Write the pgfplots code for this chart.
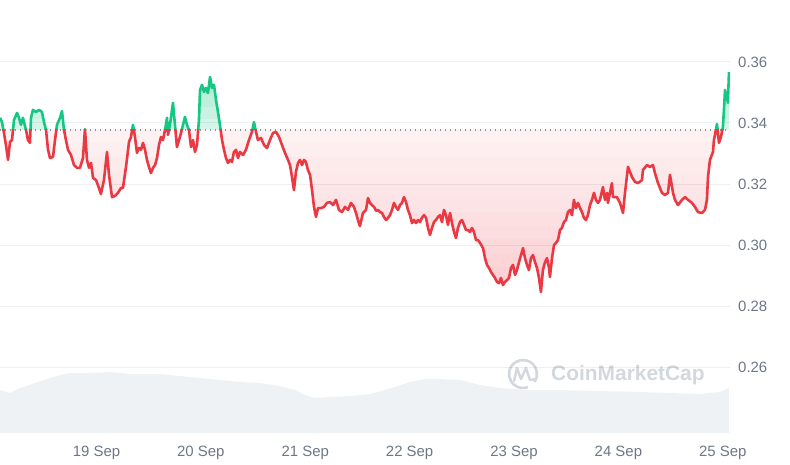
\documentclass[border=0pt]{standalone}
\usepackage{pgfplots}
\pgfplotsset{compat=1.18}
\usepackage{pgfplotstable}
\usepackage{fontspec}
\setmainfont{Liberation Sans}

\definecolor{cmcred}{RGB}{234,57,67}
\definecolor{cmcgreen}{RGB}{22,199,132}
\definecolor{gridgray}{RGB}{238,240,243}
\definecolor{gridtint}{RGB}{30,50,80}
\definecolor{volgray}{RGB}{239,242,245}
\definecolor{labelgray}{RGB}{110,118,135}
\definecolor{markgray}{RGB}{211,215,222}

% price, day of September
\pgfplotstableread{
day price
18.076 0.3417
18.095 0.3403
18.114 0.3367
18.133 0.3328
18.153 0.3279
18.172 0.3338
18.191 0.3344
18.210 0.3410
18.239 0.3433
18.258 0.3417
18.277 0.3394
18.296 0.3417
18.325 0.3377
18.344 0.3344
18.363 0.3335
18.373 0.3417
18.392 0.3443
18.421 0.3436
18.450 0.3443
18.478 0.3436
18.497 0.3403
18.517 0.3377
18.536 0.3312
18.555 0.3285
18.584 0.3289
18.603 0.3344
18.622 0.3394
18.651 0.3417
18.670 0.3439
18.689 0.3377
18.708 0.3344
18.727 0.3312
18.756 0.3295
18.785 0.3262
18.814 0.3253
18.842 0.3253
18.871 0.3285
18.890 0.3380
18.909 0.3279
18.929 0.3253
18.948 0.3269
18.967 0.3220
18.996 0.3213
19.024 0.3187
19.043 0.3167
19.072 0.3213
19.101 0.3305
19.120 0.3230
19.149 0.3157
19.178 0.3161
19.206 0.3171
19.235 0.3187
19.254 0.3187
19.283 0.3256
19.312 0.3338
19.331 0.3354
19.350 0.3394
19.369 0.3354
19.388 0.3302
19.407 0.3318
19.427 0.3312
19.446 0.3335
19.465 0.3312
19.484 0.3279
19.503 0.3256
19.522 0.3236
19.542 0.3253
19.561 0.3262
19.580 0.3285
19.599 0.3328
19.618 0.3354
19.637 0.3344
19.657 0.3377
19.676 0.3417
19.685 0.3361
19.704 0.3394
19.733 0.3466
19.752 0.3394
19.771 0.3321
19.791 0.3344
19.810 0.3367
19.829 0.3394
19.848 0.3420
19.867 0.3394
19.886 0.3377
19.906 0.3321
19.925 0.3344
19.944 0.3305
19.963 0.3328
19.982 0.3410
19.992 0.3508
20.011 0.3525
20.030 0.3502
20.049 0.3515
20.068 0.3498
20.088 0.3551
20.107 0.3515
20.126 0.3525
20.145 0.3476
20.164 0.3436
20.183 0.3394
20.203 0.3344
20.222 0.3312
20.241 0.3285
20.260 0.3269
20.279 0.3279
20.298 0.3272
20.317 0.3305
20.337 0.3312
20.356 0.3285
20.375 0.3305
20.404 0.3295
20.432 0.3312
20.461 0.3344
20.490 0.3371
20.509 0.3403
20.528 0.3371
20.547 0.3344
20.576 0.3351
20.605 0.3328
20.634 0.3318
20.662 0.3344
20.691 0.3367
20.720 0.3371
20.749 0.3354
20.777 0.3328
20.806 0.3302
20.835 0.3279
20.854 0.3262
20.873 0.3223
20.892 0.3180
20.911 0.3240
20.931 0.3269
20.950 0.3279
20.969 0.3262
20.988 0.3279
21.007 0.3272
21.026 0.3246
21.046 0.3230
21.065 0.3180
21.084 0.3125
21.103 0.3092
21.122 0.3121
21.151 0.3121
21.180 0.3125
21.208 0.3138
21.237 0.3141
21.266 0.3131
21.295 0.3148
21.323 0.3115
21.352 0.3108
21.381 0.3125
21.410 0.3115
21.438 0.3138
21.467 0.3125
21.486 0.3105
21.505 0.3082
21.524 0.3062
21.553 0.3105
21.582 0.3115
21.601 0.3154
21.620 0.3138
21.639 0.3131
21.659 0.3125
21.678 0.3112
21.697 0.3115
21.716 0.3108
21.735 0.3105
21.754 0.3092
21.774 0.3082
21.793 0.3089
21.812 0.3098
21.831 0.3115
21.850 0.3138
21.869 0.3125
21.888 0.3115
21.908 0.3131
21.927 0.3138
21.946 0.3157
21.965 0.3141
21.984 0.3115
22.003 0.3098
22.023 0.3072
22.042 0.3082
22.061 0.3072
22.080 0.3082
22.099 0.3075
22.118 0.3089
22.138 0.3098
22.157 0.3089
22.176 0.3056
22.195 0.3033
22.214 0.3056
22.233 0.3075
22.252 0.3082
22.272 0.3092
22.291 0.3098
22.310 0.3075
22.329 0.3115
22.348 0.3098
22.367 0.3066
22.387 0.3105
22.406 0.3072
22.425 0.3043
22.444 0.3023
22.463 0.3056
22.482 0.3075
22.501 0.3082
22.521 0.3066
22.540 0.3049
22.559 0.3049
22.578 0.3043
22.597 0.3056
22.616 0.3043
22.636 0.3016
22.655 0.3016
22.674 0.3007
22.703 0.2990
22.722 0.2957
22.741 0.2935
22.760 0.2925
22.779 0.2912
22.798 0.2902
22.818 0.2892
22.837 0.2879
22.856 0.2875
22.875 0.2892
22.894 0.2869
22.913 0.2879
22.933 0.2885
22.952 0.2892
22.971 0.2925
22.990 0.2935
23.009 0.2902
23.028 0.2918
23.048 0.2944
23.067 0.2967
23.086 0.2990
23.105 0.2957
23.124 0.2935
23.143 0.2918
23.162 0.2957
23.182 0.2967
23.201 0.2944
23.220 0.2925
23.239 0.2892
23.258 0.2846
23.277 0.2918
23.297 0.2944
23.316 0.2957
23.335 0.2925
23.344 0.2895
23.364 0.2957
23.383 0.3000
23.402 0.3007
23.421 0.3016
23.440 0.3049
23.459 0.3056
23.478 0.3075
23.498 0.3082
23.517 0.3108
23.536 0.3115
23.555 0.3098
23.574 0.3148
23.593 0.3121
23.613 0.3138
23.632 0.3121
23.651 0.3108
23.670 0.3089
23.689 0.3082
23.708 0.3098
23.728 0.3131
23.747 0.3148
23.766 0.3171
23.785 0.3148
23.804 0.3138
23.823 0.3148
23.852 0.3190
23.871 0.3148
23.890 0.3171
23.900 0.3138
23.938 0.3203
23.948 0.3157
23.986 0.3157
24.015 0.3138
24.044 0.3105
24.063 0.3171
24.092 0.3256
24.130 0.3223
24.159 0.3207
24.188 0.3203
24.226 0.3213
24.235 0.3246
24.274 0.3262
24.302 0.3256
24.331 0.3262
24.350 0.3236
24.379 0.3203
24.417 0.3171
24.446 0.3164
24.475 0.3171
24.494 0.3230
24.523 0.3171
24.542 0.3148
24.571 0.3131
24.609 0.3148
24.638 0.3157
24.667 0.3148
24.705 0.3138
24.733 0.3125
24.762 0.3108
24.800 0.3105
24.829 0.3115
24.848 0.3148
24.858 0.3223
24.877 0.3279
24.906 0.3305
24.915 0.3344
24.934 0.3377
24.944 0.3397
24.963 0.3335
24.982 0.3354
25.001 0.3387
25.011 0.3443
25.021 0.3508
25.040 0.3485
25.049 0.3466
25.059 0.3567
}\price

% volume, relative units
\pgfplotstableread{
day vol
18.076 43
18.172 40
18.268 45
18.411 50
18.555 55
18.651 58
18.747 60
18.938 60
19.130 61
19.321 59
19.609 59
19.800 57
19.992 55
20.183 53
20.375 51
20.567 50
20.758 47
20.902 43
20.998 38
21.093 35
21.237 36
21.429 37
21.620 39
21.764 43
21.860 46
22.003 51
22.147 54
22.291 54
22.482 53
22.674 48
22.866 45
23.153 43
23.440 43
23.823 42
24.207 41
24.494 40
24.781 39
24.973 41
25.059 45
}\volume

% stepped fills that stand in for the colour gradient:
% red = above the price and below the level #1, green = below the price and above #1
\newcommand{\redband}[2]{%
  \begin{scope}
  \clip (axis cs:18,0.27) rectangle (axis cs:26,#1);
  \addplot[draw=none, fill=cmcred!#2, forget plot] table[x=day, y=price] {\price}
    -- (axis cs:25.059,0.40) -- (axis cs:18.076,0.40) -- cycle;
  \end{scope}}
\newcommand{\greenband}[2]{%
  \begin{scope}
  \clip (axis cs:18,#1) rectangle (axis cs:26,0.40);
  \addplot[draw=none, fill=cmcgreen!#2, forget plot] table[x=day, y=price] {\price} \closedcycle;
  \end{scope}}

\begin{document}
\begin{tikzpicture}

% volume in the background
\begin{axis}[at={(0,0)}, anchor=north west, scale only axis,
  width=730bp, height=433bp, hide axis,
  xmin=18.076, xmax=25.069, ymin=0, ymax=433]
\addplot[draw=none, fill=volgray] table[x=day, y=vol] {\volume} \closedcycle;
\end{axis}

% watermark
\draw[markgray, line width=2.6bp] (523bp,-374bp) ++(-35:14bp) arc[start angle=-35, end angle=290, radius=14bp];
\draw[markgray, line width=2.4bp, line join=round, line cap=round]
  (514bp,-381bp) -- (517bp,-368bp) -- (521bp,-379bp) -- (526bp,-368bp) -- (530bp,-380bp) -- (536bp,-379bp);
\node[anchor=west, inner sep=0pt, text=markgray, font=\bfseries\fontsize{21}{21}\selectfont]
  at (551bp,-375bp) {CoinMarketCap};

\begin{axis}[at={(0,0)}, anchor=north west, scale only axis,
  width=730bp, height=433bp,
  xmin=18.076, xmax=25.069, ymin=0.2384, ymax=0.3803,
  axis line style={draw=none}, tick style={draw=none}, major tick length=0pt,
  xtick={19,20,21,22,23,24,25},
  xticklabels={19 Sep,20 Sep,21 Sep,22 Sep,23 Sep,24 Sep,25 Sep},
  ytick={0.26,0.28,0.30,0.32,0.34,0.36},
  yticklabels={0.26,0.28,0.30,0.32,0.34,0.36},
  yticklabel pos=right,
  ticklabel style={font=\fontsize{15}{18}\selectfont, text=labelgray},
  yticklabel style={anchor=west, inner sep=0pt, xshift=8bp},
  xticklabel style={anchor=base, inner sep=0pt, yshift=-23bp},
]
\redband{0.3377}{7}
\redband{0.3332}{8}
\redband{0.3287}{10}
\redband{0.3242}{11}
\redband{0.3197}{13}
\redband{0.3152}{14}
\redband{0.3107}{16}
\redband{0.3062}{17}
\redband{0.3017}{19}
\redband{0.2972}{21}
\redband{0.2927}{23}
\redband{0.2882}{25}

\greenband{0.3377}{18}
\greenband{0.3415}{23}
\greenband{0.3455}{28}
\greenband{0.3495}{33}
\greenband{0.3535}{38}

% grid lines, tinted so that they show through the fills
\draw[gridtint, opacity=0.08, line width=1bp] (axis cs:18.076,0.26) -- (axis cs:25.069,0.26);
\draw[gridtint, opacity=0.08, line width=1bp] (axis cs:18.076,0.28) -- (axis cs:25.069,0.28);
\draw[gridtint, opacity=0.08, line width=1bp] (axis cs:18.076,0.30) -- (axis cs:25.069,0.30);
\draw[gridtint, opacity=0.08, line width=1bp] (axis cs:18.076,0.32) -- (axis cs:25.069,0.32);
\draw[gridtint, opacity=0.08, line width=1bp] (axis cs:18.076,0.34) -- (axis cs:25.069,0.34);
\draw[gridtint, opacity=0.08, line width=1bp] (axis cs:18.076,0.36) -- (axis cs:25.069,0.36);
\draw[gridgray, line width=1bp] (rel axis cs:1,0) -- (rel axis cs:1,1);

\addplot[labelgray!80, line width=1.2bp, dash pattern=on 1.2bp off 3.8bp, forget plot]
  coordinates {(18.076,0.3377) (25.069,0.3377)};

\begin{scope}
\clip (axis cs:18,0.3377) rectangle (axis cs:25.2,0.40);
\addplot[cmcgreen, line width=2.6bp, line join=round] table[x=day, y=price] {\price};
\end{scope}
\begin{scope}
\clip (axis cs:18,0.20) rectangle (axis cs:25.2,0.3377);
\addplot[cmcred, line width=2.6bp, line join=round] table[x=day, y=price] {\price};
\end{scope}
\end{axis}

\pgfresetboundingbox
\useasboundingbox (0,0) rectangle (790bp,-465bp);
\end{tikzpicture}
\end{document}
